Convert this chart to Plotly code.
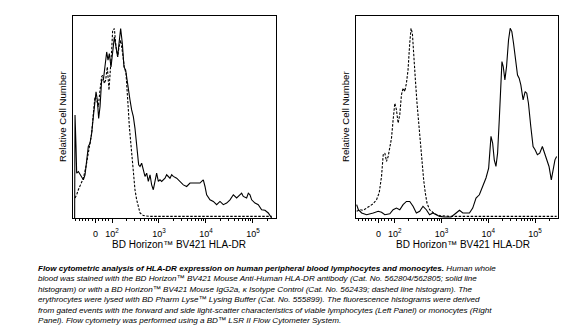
import math
import plotly.graph_objects as go

W, H = 563, 336

# x values are display positions in decades (10^2 -> 2, 10^3 -> 3, ...); y is relative cell number (%)
left_solid_x = [1.205, 1.213, 1.234, 1.248, 1.284, 1.333, 1.390, 1.426, 1.461, 1.496, 1.532, 1.567, 1.603, 1.638, 1.660,
                1.688, 1.716, 1.745, 1.780, 1.816, 1.851, 1.887, 1.915, 1.943, 1.979, 2.014, 2.050, 2.085, 2.121, 2.149,
                2.184, 2.220, 2.255, 2.291, 2.326, 2.362, 2.383, 2.418, 2.454, 2.489, 2.511, 2.539, 2.567, 2.596, 2.631,
                2.667, 2.702, 2.738, 2.773, 2.809, 2.844, 2.879, 2.915, 2.950, 2.986, 3.021, 3.057, 3.092, 3.128, 3.163,
                3.199, 3.234, 3.270, 3.305, 3.376, 3.447, 3.518, 3.589, 3.660, 3.730, 3.801, 3.872, 3.908, 3.943, 3.979,
                4.014, 4.085, 4.156, 4.227, 4.298, 4.369, 4.440, 4.511, 4.582, 4.653, 4.723, 4.759, 4.794, 4.865, 4.901,
                4.936, 4.972, 5.043, 5.113, 5.184, 5.255, 5.326, 5.397]
left_solid_y = [0, 51.0, 35.4, 22.2, 23.0, 21.4, 18.9, 21.4, 30.4, 35.4, 37.0, 41.9, 50.2, 60.0, 62.5,
                58.4, 49.3, 55.1, 68.3, 68.3, 74.0, 82.2, 78.1, 81.4, 74.8, 83.1, 89.6, 84.7, 79.8, 86.3,
                93.8, 86.3, 74.8, 73.2, 66.6, 61.7, 58.4, 53.5, 50.2, 44.4, 38.7, 32.1, 26.3, 25.5, 27.1,
                23.8, 20.6, 22.2, 18.1, 21.4, 16.4, 14.0, 18.1, 22.2, 18.1, 18.9, 18.1, 18.9, 19.7, 21.4,
                20.6, 19.7, 21.4, 20.6, 19.7, 18.1, 16.4, 15.6, 17.3, 17.3, 17.3, 17.3, 18.1, 18.9, 15.6,
                11.5, 9.0, 8.2, 6.6, 8.2, 6.6, 7.4, 9.0, 11.5, 9.9, 11.5, 12.3, 10.7, 9.9, 12.3,
                11.5, 9.0, 7.4, 6.6, 4.1, 3.8, 2.5, 0]

left_dash_x = [1.213, 1.248, 1.284, 1.333, 1.390, 1.447, 1.496, 1.532, 1.567, 1.603, 1.638, 1.674, 1.709, 1.745, 1.780,
               1.801, 1.837, 1.865, 1.901, 1.936, 1.957, 1.993, 2.014, 2.050, 2.085, 2.121, 2.149, 2.184, 2.227, 2.262,
               2.298, 2.326, 2.348, 2.369, 2.397, 2.426, 2.454, 2.489, 2.525, 2.560, 2.596, 2.667, 2.809, 5.40]
left_dash_y = [9.9, 11.5, 14.0, 16.4, 19.7, 25.5, 32.9, 37.0, 41.9, 51.8, 60.0, 58.4, 55.1, 63.3, 69.9,
               70.7, 66.6, 68.3, 74.8, 63.3, 69.9, 83.1, 92.9, 93.8, 84.7, 79.8, 84.7, 88.0, 81.4, 74.8,
               71.5, 63.3, 53.5, 45.2, 37.0, 28.8, 20.6, 14.0, 9.0, 4.9, 2.5, 1.2, 0.8, 0.8]

right_solid_x = [1.184, 1.220, 1.291, 1.397, 1.539, 1.645, 1.716, 1.787, 1.893, 1.964, 2.035, 2.106, 2.177, 2.248, 2.319,
                 2.390, 2.461, 2.532, 2.603, 2.674, 2.744, 2.815, 2.886, 2.957, 3.064, 3.205, 3.312, 3.383, 3.454, 3.525,
                 3.596, 3.666, 3.737, 3.808, 3.879, 3.950, 4.007, 4.035, 4.057, 4.092, 4.127, 4.163, 4.198, 4.234, 4.269,
                 4.291, 4.319, 4.354, 4.390, 4.432, 4.468, 4.503, 4.539, 4.574, 4.624, 4.659, 4.695, 4.744, 4.787, 4.822,
                 4.858, 4.908, 4.957, 5.000, 5.049, 5.099, 5.156, 5.191, 5.241, 5.298, 5.347, 5.383, 5.425, 5.461]
right_solid_y = [6.6, 4.1, 2.5, 1.6, 2.5, 3.3, 2.8, 1.6, 2.1, 4.1, 4.9, 4.1, 6.6, 8.2, 8.2,
                 5.8, 2.5, 3.3, 5.8, 4.1, 1.6, 2.5, 1.6, 0.8, 0.5, 0.5, 2.5, 3.8, 2.5, 2.5,
                 2.5, 4.9, 9.9, 11.5, 15.7, 19.8, 24.7, 37.1, 40.4, 37.1, 28.8, 25.5, 32.1, 48.6, 63.4,
                 77.4, 75.0, 68.4, 75.0, 88.1, 93.9, 92.3, 86.5, 80.7, 70.8, 69.2, 65.9, 58.5, 62.6, 61.8,
                 56.8, 45.3, 35.4, 33.8, 31.3, 32.1, 35.4, 32.9, 29.7, 25.5, 18.9, 23.9, 28.8, 30.5]

right_dash_x = [1.184, 1.255, 1.326, 1.397, 1.468, 1.539, 1.610, 1.666, 1.716, 1.752, 1.787, 1.822, 1.858, 1.893, 1.929,
                1.964, 2.000, 2.035, 2.071, 2.106, 2.142, 2.177, 2.213, 2.248, 2.283, 2.319, 2.347, 2.376, 2.404, 2.440,
                2.475, 2.510, 2.546, 2.581, 2.617, 2.652, 2.688, 2.744, 2.851, 2.957, 3.170, 5.461]
right_dash_y = [3.3, 4.1, 3.8, 4.9, 6.1, 7.1, 9.1, 12.4, 20.6, 31.3, 32.1, 28.0, 30.5, 34.6, 39.5,
                48.6, 56.8, 53.5, 47.0, 51.1, 61.0, 64.3, 62.6, 66.7, 73.3, 86.5, 93.9, 91.4, 78.3, 68.4,
                56.8, 47.0, 37.1, 27.2, 18.9, 12.4, 7.4, 4.1, 2.1, 1.2, 0.8, 0.8]

tick_values = [0, 100, 1000, 10000, 100000]
tick_labels = ["0", "10<sup>2</sup>", "10<sup>3</sup>", "10<sup>4</sup>", "10<sup>5</sup>"]
linear_minor = [-140, -120, -100, -80, -60, -40, -20, 20, 40, 60, 80]
log_minor = [m * 10 ** k for k in (2, 3, 4) for m in range(2, 10)] + [200000]

axis_title = "BD Horizon™ BV421 HLA-DR"
y_title = "Relative Cell Number"
caption_lines = [
    "<b>Flow cytometric analysis of HLA-DR expression on human peripheral blood lymphocytes and monocytes.</b> Human whole",
    "blood was stained with the BD Horizon™ BV421 Mouse Anti-Human HLA-DR antibody (Cat. No. 562804/562805; solid line",
    "histogram) or with a BD Horizon™ BV421 Mouse IgG2a, κ Isotype Control (Cat. No. 562439; dashed line histogram). The",
    "erythrocytes were lysed with BD Pharm Lyse™ Lysing Buffer (Cat. No. 555899). The fluorescence histograms were derived",
    "from gated events with the forward and side light-scatter characteristics of viable lymphocytes (Left Panel) or monocytes (Right",
    "Panel). Flow cytometry was performed using a BD™ LSR II Flow Cytometer System.",
]


def to_display(v):
    # biexponential-like display scale: log above 100, linear near zero
    if v >= 100:
        return math.log10(v)
    return 1.65 + 0.35 * v / 100.0


FONT = "Liberation Sans, Arial, Helvetica, sans-serif"

fig = go.Figure()
for xs, ys, dash, ax in [
    (left_dash_x, left_dash_y, "2.5px,1.5px", ("x", "y")),
    (left_solid_x, left_solid_y, "solid", ("x", "y")),
    (right_dash_x, right_dash_y, "2.5px,1.5px", ("x2", "y2")),
    (right_solid_x, right_solid_y, "solid", ("x2", "y2")),
]:
    fig.add_trace(go.Scatter(x=xs, y=ys, mode="lines", xaxis=ax[0], yaxis=ax[1],
                             line=dict(color="black", width=1.1, dash=dash), showlegend=False,
                             hoverinfo="skip"))

xcommon = dict(
    range=[1.17, 5.49], showline=True, linecolor="black", linewidth=1, mirror=True,
    showgrid=False, zeroline=False, ticks="outside", ticklen=4, tickwidth=1, tickcolor="black",
    tickmode="array", tickvals=[to_display(v) for v in tick_values], ticktext=tick_labels,
    tickfont=dict(family=FONT, size=9, color="black"), ticklabelstandoff=3,
    minor=dict(tickmode="array", tickvals=[to_display(v) for v in linear_minor + log_minor],
               ticks="outside", ticklen=2, tickwidth=1, tickcolor="black", showgrid=False),
    fixedrange=True,
)
ycommon = dict(
    range=[0, 100], showline=True, linecolor="black", linewidth=1, mirror=True,
    showgrid=False, zeroline=False, ticks="", showticklabels=False, fixedrange=True,
    domain=[1 - 218 / H, 1 - 16 / H],
)

fig.update_layout(
    width=W, height=H, margin=dict(l=0, r=0, t=0, b=0),
    paper_bgcolor="white", plot_bgcolor="white",
    font=dict(family=FONT, color="black"),
    xaxis=dict(domain=[73 / W, 276 / W], anchor="y", **xcommon),
    yaxis=dict(anchor="x", **ycommon),
    xaxis2=dict(domain=[356 / W, 558 / W], anchor="y2", **xcommon),
    yaxis2=dict(anchor="x2", **ycommon),
)

ann = []
for cx in (179, 463):
    ann.append(dict(text=axis_title, x=cx / W, y=1 - 244.5 / H, xref="paper", yref="paper",
                    xanchor="center", yanchor="middle", showarrow=False,
                    font=dict(family=FONT, size=10, color="black")))
for cx in (62, 345):
    ann.append(dict(text=y_title, x=cx / W, y=1 - 117 / H, xref="paper", yref="paper",
                    xanchor="center", yanchor="middle", showarrow=False, textangle=-90,
                    font=dict(family=FONT, size=9.6, color="black")))
line_y = [268.3, 278.8, 289.2, 299.6, 310.0, 320.3]
for txt, ly in zip(caption_lines, line_y):
    ann.append(dict(text="<i>" + txt + "</i>", x=36 / W, y=1 - ly / H, xref="paper", yref="paper",
                    xanchor="left", yanchor="middle", showarrow=False, align="left",
                    font=dict(family=FONT, size=8.1, color="black")))
fig.update_layout(annotations=ann)

fig.write_html("out.html")
